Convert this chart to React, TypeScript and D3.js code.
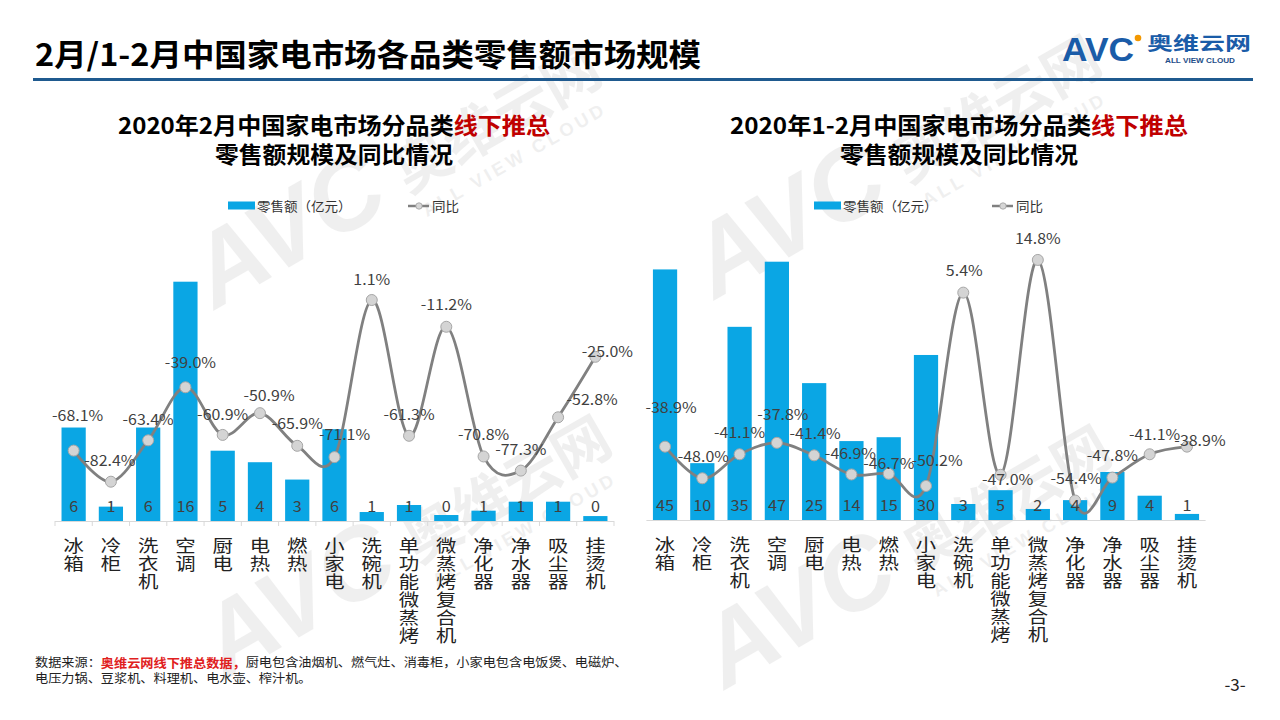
import React from "react";
import * as d3 from "d3";

// ---------- DATA ----------
const categories = [
  "冰箱", "冷柜", "洗衣机", "空调", "厨电", "电热", "燃热", "小家电",
  "洗碗机", "单功能微蒸烤", "微蒸烤复合机", "净化器", "净水器", "吸尘器", "挂烫机",
];

// 2020年2月 零售额（亿元）
const febSales = [6.25, 0.96, 6.25, 16.0, 4.7, 3.93, 2.77, 6.14, 0.6, 1.07, 0.4, 0.69, 1.29, 1.29, 0.33];
// 2020年2月 同比（%）
const febYoY = [-68.1, -82.4, -63.4, -39.0, -60.9, -50.9, -65.9, -71.1, 1.1, -61.3, -11.2, -70.8, -77.3, -52.8, -25.0];

// 2020年1-2月 零售额（亿元）
const janFebSales = [45.4, 10.3, 35.0, 46.8, 24.8, 14.3, 15.0, 29.9, 2.9, 5.4, 2.0, 3.6, 8.7, 4.4, 1.1];
// 2020年1-2月 同比（%）
const janFebYoY = [-38.9, -48.0, -41.1, -37.8, -41.4, -46.9, -46.7, -50.2, 5.4, -47.0, 14.8, -54.4, -47.8, -41.1, -38.9];

const legendLabels = ["零售额（亿元）", "同比"];

// ---------- LAYOUT (label nudges, relative to the point) ----------
const febLabelNudge: [number, number][] = [
  [4, -36], [-1, -22], [0, -22], [5, -26], [0, -22], [9, -19], [0, -23], [10, -24],
  [0, -22], [0, -22], [0, -23], [0, -23], [0, -22], [34, -19], [12, -6],
];
const janFebLabelNudge: [number, number][] = [
  [6, -40], [1, -23], [0, -23], [6, -29], [1, -23], [-1, -22], [0, -11], [11, -27],
  [1, -23], [7, 4], [0, -23], [1, -23], [0, -23], [5, -21], [13, -7],
];

const CJK = "'Noto Sans CJK SC', 'Noto Sans', sans-serif";
const BAR = "#0aa6e4";
const LINE = "#808080";
const LABEL = "#404040";

const locale = d3.formatLocale({ decimal: ".", thousands: ",", grouping: [3], currency: ["", ""], minus: "-" });
const fmt0 = locale.format(".0f");
const fmt1 = locale.format(".1f");

type Layout = {
  x0: number; x1: number; base: number;
  salesMax: number; salesTop: number;
  yoyMin: number; yoyMinY: number; yoyZeroY: number;
  ticks: boolean;
  legendX: number; legendLineX: number;
  titleX: number; title1Len: number;
  title1: string;
};

const leftLayout: Layout = {
  x0: 55, x1: 614, base: 521, salesMax: 16, salesTop: 281.7,
  yoyMin: -100, yoyMinY: 520, yoyZeroY: 302.4, ticks: true,
  legendX: 228, legendLineX: 408, titleX: 334, title1Len: 432,
  title1: "2020年2月中国家电市场分品类",
};
const rightLayout: Layout = {
  x0: 646.4, x1: 1205.6, base: 520, salesMax: 47, salesTop: 260.6,
  yoyMin: -60, yoyMinY: 520, yoyZeroY: 311.4, ticks: false,
  legendX: 814, legendLineX: 992, titleX: 959, title1Len: 458,
  title1: "2020年1-2月中国家电市场分品类",
};

function T(props: any) {
  const { x, y, sx = 1, children, ...rest } = props;
  return (
    <text transform={`translate(${x},${y}) scale(${sx},1)`} dominantBaseline="central" {...rest}>
      {children}
    </text>
  );
}

function Chart({ sales, yoy, nudge, L }: { sales: number[]; yoy: number[]; nudge: [number, number][]; L: Layout }) {
  const x = d3.scaleBand<string>().domain(categories).range([L.x0, L.x1]).paddingInner(0.35).paddingOuter(0.175);
  const y = d3.scaleLinear().domain([0, L.salesMax]).range([L.base, L.salesTop]);
  const y2 = d3.scaleLinear().domain([L.yoyMin, 0]).range([L.yoyMinY, L.yoyZeroY]);
  const cx = (i: number) => (x(categories[i]) as number) + x.bandwidth() / 2;
  const line = d3
    .line<number>()
    .x((_, i) => cx(i))
    .y((d) => y2(d))
    .curve(d3.curveCardinal.tension(0));
  const fmtPct = (v: number) => fmt1(v) + "%";
  const step = x.step();

  return (
    <g>
      {/* title */}
      <text x={L.titleX} y={124} textAnchor="middle" dominantBaseline="central" fontFamily={CJK} fontWeight="bold" fontSize={23} fill="#000" textLength={L.title1Len} lengthAdjust="spacingAndGlyphs">
        {L.title1}
        <tspan fill="#c00000">线下推总</tspan>
      </text>
      <text x={L.titleX} y={153} textAnchor="middle" dominantBaseline="central" fontFamily={CJK} fontWeight="bold" fontSize={23} fill="#000" textLength={238} lengthAdjust="spacingAndGlyphs">
        零售额规模及同比情况
      </text>

      {/* legend */}
      <rect x={L.legendX} y={201.5} width={27} height={8} fill={BAR} />
      <T x={L.legendX + 29} y={206} sx={1.04} fontFamily={CJK} fontSize={13} fill="#333">{legendLabels[0]}</T>
      <line x1={L.legendLineX} x2={L.legendLineX + 21} y1={206} y2={206} stroke={LINE} strokeWidth={2.5} />
      <circle cx={L.legendLineX + 11} cy={206} r={3.2} fill="#d6d6d6" stroke="#a0a0a0" strokeWidth={0.8} />
      <T x={L.legendLineX + 24} y={206} sx={1.04} fontFamily={CJK} fontSize={13} fill="#333">{legendLabels[1]}</T>

      {/* axis */}
      <line x1={L.x0} x2={L.x1} y1={L.base + 0.5} y2={L.base + 0.5} stroke="#d9d9d9" strokeWidth={1} />
      {L.ticks &&
        d3.range(categories.length + 1).map((i) => (
          <line key={"t" + i} x1={L.x0 + i * step} x2={L.x0 + i * step} y1={L.base} y2={L.base + 5} stroke="#d9d9d9" strokeWidth={1} />
        ))}

      {/* bars */}
      {sales.map((v, i) => (
        <rect key={"b" + i} x={x(categories[i])} y={y(v)} width={x.bandwidth()} height={L.base - y(v)} fill={BAR} />
      ))}

      {/* line */}
      <path d={line(yoy) || ""} fill="none" stroke={LINE} strokeWidth={2.8} />
      {yoy.map((v, i) => (
        <circle key={"m" + i} cx={cx(i)} cy={y2(v)} r={5.5} fill="#d4d4d4" stroke="#a6a6a6" strokeWidth={1} />
      ))}

      {/* data labels */}
      {sales.map((v, i) => (
        <T key={"bl" + i} x={cx(i)} y={L.base - 16} sx={1.08} textAnchor="middle" fontFamily={CJK} fontSize={15} fill={LABEL}>
          {fmt0(v)}
        </T>
      ))}
      {yoy.map((v, i) => (
        <T key={"pl" + i} x={cx(i) + nudge[i][0]} y={y2(v) + nudge[i][1]} sx={1.1} textAnchor="middle" fontFamily={CJK} fontSize={14.5} fill={LABEL}>
          {fmtPct(v)}
        </T>
      ))}

      {/* categories (vertical writing) */}
      {categories.map((c, i) => (
        <text
          key={"c" + i}
          transform={`translate(${cx(i)},${L.base + 16}) scale(1.2,1)`}
          style={{ writingMode: "vertical-rl" } as any}
          fontFamily={CJK}
          fontSize={17}
          letterSpacing={1}
          fill="#222"
        >
          {c}
        </text>
      ))}
    </g>
  );
}

function Watermark({ x, y }: { x: number; y: number }) {
  return (
    <g transform={`translate(${x},${y}) rotate(-30) scale(0.92)`} fill="#000" opacity={0.06}>
      <text x={0} y={0} fontFamily="'Liberation Sans', sans-serif" fontWeight="bold" fontStyle="italic" fontSize={110}>AVC</text>
      <text x={245} y={-4} fontFamily={CJK} fontWeight="bold" fontSize={62}>奥维云网</text>
      <text x={250} y={28} fontFamily="'Liberation Sans', sans-serif" fontWeight="bold" fontSize={20} letterSpacing={4}>ALL VIEW CLOUD</text>
    </g>
  );
}

export default function App() {
  return (
    <svg width={1280} height={720} viewBox="0 0 1280 720" style={{ position: "absolute", left: 0, top: 0, display: "block", background: "#fff" }}>
      <rect x={0} y={0} width={1280} height={720} fill="#fff" />

      {/* watermarks */}
      <Watermark x={215} y={310} />
      <Watermark x={715} y={300} />
      <Watermark x={225} y={680} />
      <Watermark x={725} y={690} />

      {/* header */}
      <text x={35} y={52.5} dominantBaseline="central" fontFamily={CJK} fontWeight="bold" fontSize={31} fill="#000" textLength={666} lengthAdjust="spacingAndGlyphs">
        2月/1-2月中国家电市场各品类零售额市场规模
      </text>
      <line x1={33} x2={1253} y1={79.5} y2={79.5} stroke="#1f5a8f" strokeWidth={3} />

      {/* logo */}
      <text x={1062} y={49} dominantBaseline="central" fontFamily="'Liberation Sans', sans-serif" fontWeight="bold" fontSize={34} fill="#1a5ca8" textLength={72} lengthAdjust="spacingAndGlyphs">AVC</text>
      <circle cx={1138} cy={38} r={3.3} fill="#f39800" />
      <text x={1147} y={41.5} dominantBaseline="central" fontFamily={CJK} fontWeight="bold" fontSize={18.5} fill="#1a5ca8" textLength={104} lengthAdjust="spacingAndGlyphs">奥维云网</text>
      <text x={1165} y={60.5} dominantBaseline="central" fontFamily="'Liberation Sans', sans-serif" fontWeight="bold" fontSize={7.5} fill="#1d4e89" textLength={70} lengthAdjust="spacingAndGlyphs">ALL VIEW CLOUD</text>

      <Chart sales={febSales} yoy={febYoY} nudge={febLabelNudge} L={leftLayout} />
      <Chart sales={janFebSales} yoy={janFebYoY} nudge={janFebLabelNudge} L={rightLayout} />

      {/* footer */}
      <T x={35} y={662} sx={1.055} fontFamily={CJK} fontSize={12.5} fill="#222">
        数据来源：<tspan fill="#e02020" fontWeight="bold">奥维云网线下推总数据，</tspan>厨电包含油烟机、燃气灶、消毒柜，小家电包含电饭煲、电磁炉、
      </T>
      <T x={35} y={678} sx={1.055} fontFamily={CJK} fontSize={12.5} fill="#222">
        电压力锅、豆浆机、料理机、电水壶、榨汁机。
      </T>
      <T x={1235} y={683} textAnchor="middle" fontFamily={CJK} fontSize={17} fill="#222">-3-</T>
    </svg>
  );
}
